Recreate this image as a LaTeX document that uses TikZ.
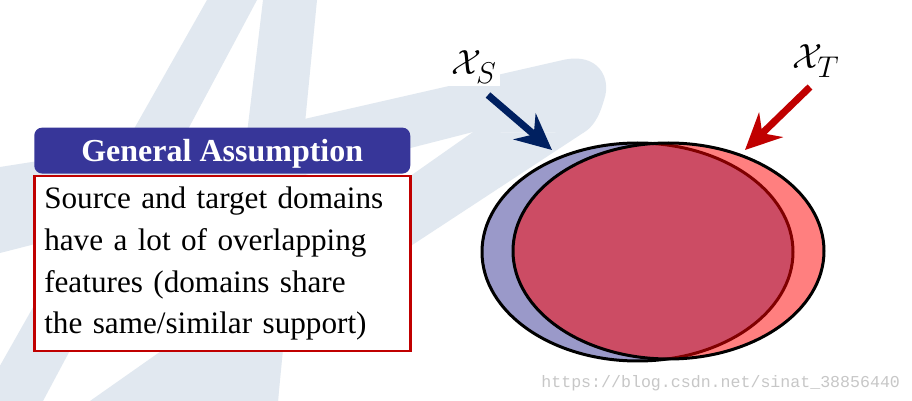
\RequirePackage{fix-cm}
\documentclass[tikz,border=0pt]{standalone}
\usepackage{fontspec}
\setmainfont{Liberation Serif}
\setmonofont{Liberation Mono}
\usetikzlibrary{arrows.meta,positioning}

\definecolor{logogray}{RGB}{225,232,240}
\definecolor{titleblue}{RGB}{55,54,153}
\definecolor{boxred}{RGB}{192,0,0}
\definecolor{srcfill}{RGB}{154,153,201}
\definecolor{srcarrow}{RGB}{0,32,96}

\newcommand{\domsub}[1]{\mbox{\fontsize{15}{15}\selectfont$#1$}}

\begin{document}
\begin{tikzpicture}[x=0.5pt, y=-0.5pt,
    bodybox/.style={draw=boxred, line width=1.25pt, fill=white, anchor=north west,
        text width=178pt, inner xsep=5pt, inner ysep=0pt, minimum height=87.5pt,
        align=left, font=\fontsize{15.6}{20.85}\selectfont},
    titlebar/.style={fill=titleblue, rounded corners=4pt, text=white,
        minimum width=188pt, minimum height=23pt, inner sep=0pt, text depth=0pt,
        font=\fontsize{16}{19}\selectfont\bfseries},
    domlabel/.style={fill=white, inner sep=1.5pt, font=\fontsize{17.5}{20}\selectfont},
    pointer/.style={line width=3.5pt, -{Stealth[length=18pt, width=17pt, inset=6pt]}}]

    % 1. Khung hình và nền trắng
    \useasboundingbox (0,0) rectangle (912,401);
    \fill[white] (0,0) rectangle (912,401);

    % 2. Logo mờ phía sau (chữ A cách điệu)
    \begin{scope}
        \clip (0,0) rectangle (912,401);
        % chân trái và chân phải
        \fill[logogray] (207,0) -- (257,0) -- (43,401) -- (-20,401) -- cycle;
        \fill[logogray] (263,0) -- (317,0) -- (278,401) -- (215,401) -- cycle;
        % thanh ngang trên, đầu tròn bên phải
        \fill[logogray] (0,167) -- (300,120) -- (563,60)
            .. controls (598,52) and (612,78) .. (604,100)
            .. controls (599,118) and (592,128) .. (583,133)
            -- (473,132) -- (0,253) -- cycle;
        % nhánh chéo dưới
        \fill[logogray] (583,133) -- (278,333) -- (278,401) -- (90,401)
            -- (473,132) -- cycle;
    \end{scope}

    % 3. Hộp giả thiết
    \node (body) [bodybox] at (33,175) {Source and target domains\\
        have a lot of overlapping\\ features (domains share\\
        the same/similar support)};
    \node (title) [titlebar, above=0.5pt of body] {General Assumption};

    % 4. Hai miền: nguồn (xanh) và đích (đỏ, trong suốt)
    \coordinate (S) at (637.5,252);
    \coordinate (T) at (668.5,251);
    \fill[srcfill] (S) ellipse [x radius=155.5, y radius=109];
    \draw[line width=1.5pt] (S) ellipse [x radius=155.5, y radius=109];
    \fill[red, fill opacity=0.5] (T) ellipse [x radius=155.5, y radius=108];
    \draw[line width=1.5pt] (T) ellipse [x radius=155.5, y radius=108];

    % 5. Nhãn và mũi tên
    \node (xs) [domlabel] at (474,67) {$\mathcal{X}_{\domsub{S}}$};
    \node (xt) [domlabel] at (816,61) {$\mathcal{X}_{\domsub{T}}$};
    \coordinate (s tail) at (488,95);
    \coordinate (s tip) at (552,150);
    \coordinate (t tail) at (810,87);
    \coordinate (t tip) at (745,150);
    \draw[pointer, srcarrow] (s tail) -- (s tip);
    \draw[pointer, boxred] (t tail) -- (t tip);

    % 6. Dòng chữ nguồn ảnh
    \node (url) [anchor=base west, inner sep=0pt, text=black!22,
        font=\fontsize{8.3}{9}\selectfont\ttfamily] at (541,387)
        {https://blog.csdn.net/sinat\_38856440};

\end{tikzpicture}
\end{document}
